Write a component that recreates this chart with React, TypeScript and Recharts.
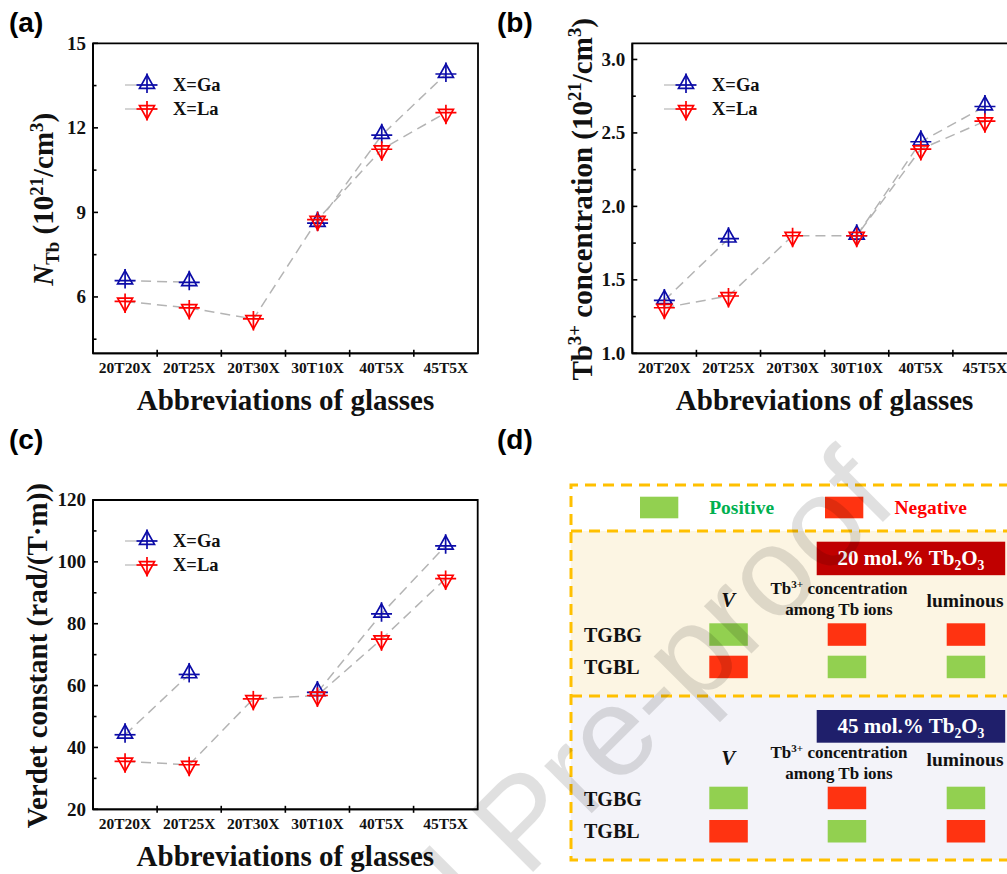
import React from 'react';
import { LineChart, Line, XAxis, YAxis, Legend, ReferenceArea } from 'recharts';

const SERIF = '"Liberation Serif", "Times New Roman", serif';
const SANS = '"Liberation Sans", Arial, sans-serif';
const BLUE = '#0c0ca8';
const RED = '#ff0000';
const LINE_GRAY = '#b4b4b4';

// ---------- data ----------
const categories = ['20T20X', '20T25X', '20T30X', '30T10X', '40T5X', '45T5X'];
const seriesNames = ['X=Ga', 'X=La'];

const nTbGa = [6.58, 6.52, null, 8.62, 11.74, 13.91];
const nTbLa = [5.84, 5.61, 5.22, 8.74, 11.24, 12.54];
const nTbMajor = [6, 9, 12, 15];
const nTbMinor = [4.5, 7.5, 10.5, 13.5];
const nTbDomain = [4, 15];

const concGa = [1.36, 1.78, null, 1.8, 2.44, 2.68];
const concLa = [1.31, 1.39, 1.8, 1.8, 2.39, 2.58];
const concMajor = [1.0, 1.5, 2.0, 2.5, 3.0];
const concMinor = [1.25, 1.75, 2.25, 2.75];
const concDomain = [1.0, 3.11];

const verdetGa = [44.1, 63.6, null, 57.8, 83.2, 105.2];
const verdetLa = [35.5, 34.4, 55.7, 56.8, 75.0, 94.6];
const verdetMajor = [20, 40, 60, 80, 100, 120];
const verdetMinor = [30, 50, 70, 90, 110];
const verdetDomain = [20, 120];

type Seg = { t: string; s?: 'sup' | 'sub'; i?: boolean };
const xTitle: Seg[] = [{ t: 'Abbreviations of glasses' }];
const nTbTitle: Seg[] = [{ t: 'N', i: true }, { t: 'Tb', s: 'sub' }, { t: ' (10' }, { t: '21', s: 'sup' }, { t: '/cm' }, { t: '3', s: 'sup' }, { t: ')' }];
const concTitle: Seg[] = [{ t: 'Tb' }, { t: '3+', s: 'sup' }, { t: ' concentration (10' }, { t: '21', s: 'sup' }, { t: '/cm' }, { t: '3', s: 'sup' }, { t: ')' }];
const verdetTitle: Seg[] = [{ t: 'Verdet constant (rad/(T\u00b7m))' }];

// panel (d) table
const legendItems = ['Positive', 'Negative'];
const tableRows = ['TGBG', 'TGBL'];
const sectionTitles: Seg[][] = [
  [{ t: '20 mol.% Tb' }, { t: '2', s: 'sub' }, { t: 'O' }, { t: '3', s: 'sub' }],
  [{ t: '45 mol.% Tb' }, { t: '2', s: 'sub' }, { t: 'O' }, { t: '3', s: 'sub' }],
];
const effect20 = [[1, 0, 0], [0, 1, 1]]; // 1 = positive, 0 = negative
const effect45 = [[1, 0, 1], [0, 1, 0]];

// ---------- helpers ----------
function rich(segs: Seg[], size: number) {
  let shift = 0;
  return segs.map((s, k) => {
    const target = s.s === 'sup' ? -0.36 * size : s.s === 'sub' ? 0.2 * size : 0;
    const dy = target - shift;
    shift = target;
    return (
      <tspan key={k} dy={dy} fontSize={s.s ? size * 0.65 : size} fontStyle={s.i ? 'italic' : 'normal'}>
        {s.t}
      </tspan>
    );
  });
}

function UpShape({ cx, cy }: { cx: number; cy: number }) {
  return (
    <g fill="none" stroke={BLUE} strokeWidth={1.7}>
      <path d={`M${cx} ${cy - 10} L${cx + 7.5} ${cy + 3.3} L${cx - 7.5} ${cy + 3.3} Z`} />
      <line x1={cx - 10.5} x2={cx + 10.5} y1={cy} y2={cy} />
      <line x1={cx} x2={cx} y1={cy - 11.5} y2={cy + 8} />
    </g>
  );
}
function DownShape({ cx, cy }: { cx: number; cy: number }) {
  return (
    <g fill="none" stroke={RED} strokeWidth={1.7}>
      <path d={`M${cx} ${cy + 10} L${cx + 7.5} ${cy - 3.3} L${cx - 7.5} ${cy - 3.3} Z`} />
      <line x1={cx - 10.5} x2={cx + 10.5} y1={cy} y2={cy} />
      <line x1={cx} x2={cx} y1={cy - 8} y2={cy + 11.5} />
    </g>
  );
}
const UpDot = (p: any) => {
  const { cx, cy, index } = p;
  if (cx == null || cy == null || Number.isNaN(cy)) return <g key={`u${index}`} />;
  return <UpShape key={`u${index}`} cx={cx} cy={cy} />;
};
const DownDot = (p: any) => {
  const { cx, cy, index } = p;
  if (cx == null || cy == null || Number.isNaN(cy)) return <g key={`d${index}`} />;
  return <DownShape key={`d${index}`} cx={cx} cy={cy} />;
};

const xTicks = [...categories.map((_, i) => i), ...categories.slice(1).map((_, i) => i + 0.5)].sort((a, b) => a - b);

const XTick = (p: any) => {
  const { x, y, payload } = p;
  const v = payload.value;
  if (Number.isInteger(v)) {
    return (
      <text x={x} y={y + 20} textAnchor="middle" fontFamily={SERIF} fontWeight="bold" fontSize={15.5} fill="#111">
        {categories[v]}
      </text>
    );
  }
  return <line x1={x} x2={x} y1={y - 3.5} y2={y + 3.5} stroke="#000" strokeWidth={1.6} />;
};

function makeYTick(major: number[], decimals: number) {
  return (p: any) => {
    const { x, y, payload } = p;
    const v = payload.value;
    const isMajor = major.some((m) => Math.abs(m - v) < 1e-9);
    return (
      <g>
        <line x1={x} x2={x + (isMajor ? 5 : 3.5)} y1={y} y2={y} stroke="#000" strokeWidth={1.6} />
        {isMajor && (
          <text x={x - 7} y={y + 6.3} textAnchor="end" fontFamily={SERIF} fontWeight="bold" fontSize={19} fill="#111">
            {v.toFixed(decimals)}
          </text>
        )}
      </g>
    );
  };
}

const LegendBox = () => (
  <svg width={140} height={48} style={{ overflow: 'visible', display: 'block' }}>
    {seriesNames.map((name, i) => {
      const y = 12 + i * 24;
      return (
        <g key={name}>
          <line x1={0} x2={32} y1={y} y2={y} stroke="#c6c6c6" strokeWidth={1.5} />
          {i === 0 ? <UpShape cx={22} cy={y} /> : <DownShape cx={22} cy={y} />}
          <text x={48} y={y + 6} fontFamily={SERIF} fontWeight="bold" fontSize={18.5} fill="#111">
            {name}
          </text>
        </g>
      );
    })}
  </svg>
);

type Geo = { left: number; top: number; w: number; h: number; pl: number; pt: number; pr: number; pb: number };
const GA: Geo = { left: 0, top: 0, w: 500, h: 420, pl: 93, pt: 43.3, pr: 478, pb: 353.3 };
const GB: Geo = { left: 495, top: 0, w: 530, h: 420, pl: 632.3, pt: 43.3, pr: 1017, pb: 353.3 };
const GC: Geo = { left: 0, top: 420, w: 500, h: 454, pl: 93, pt: 500, pr: 477.7, pb: 809.3 };

const AXIS_W = 1; // axes need a non-zero size to be drawn

function LinePanel({ g, ga, la, domain, major, minor, decimals, legendTop }: any) {
  const data = categories.map((c, i) => ({ idx: i, cat: c, ga: ga[i], la: la[i] }));
  const margin = {
    left: g.pl - g.left - AXIS_W,
    top: g.pt - g.top,
    right: g.left + g.w - g.pr,
    bottom: g.top + g.h - g.pb - AXIS_W,
  };
  const yTicks = [...major, ...minor].sort((a: number, b: number) => a - b);
  const axisLine = { stroke: '#000', strokeWidth: 1.8 };
  return (
    <div style={{ position: 'absolute', left: g.left, top: g.top, width: g.w, height: g.h }}>
      <LineChart width={g.w} height={g.h} data={data} margin={margin}>
        <XAxis
          type="number"
          dataKey="idx"
          domain={[-0.5, categories.length - 0.5]}
          ticks={xTicks}
          interval={0}
          tickLine={false}
          tickSize={0}
          tickMargin={0}
          height={AXIS_W}
          axisLine={axisLine}
          tick={XTick}
          allowDataOverflow
        />
        <YAxis
          type="number"
          domain={domain}
          ticks={yTicks}
          interval={0}
          width={AXIS_W}
          tickLine={false}
          tickSize={0}
          tickMargin={0}
          axisLine={axisLine}
          tick={makeYTick(major, decimals)}
          allowDataOverflow
        />
        <ReferenceArea x1={-0.5} x2={categories.length - 0.5} y1={domain[0]} y2={domain[1]} fill="none" stroke="#000" strokeWidth={1.8} />
        <Legend
          layout="vertical"
          verticalAlign="middle"
          align="center"
          wrapperStyle={{ left: g.pl - g.left + 32, top: g.pt - g.top + legendTop, width: 140, height: 48 }}
          content={() => <LegendBox />}
        />
        <Line type="linear" dataKey="ga" name={seriesNames[0]} stroke={LINE_GRAY} strokeWidth={1.5} strokeDasharray="10 6" dot={UpDot} activeDot={false} isAnimationActive={false} />
        <Line type="linear" dataKey="la" name={seriesNames[1]} stroke={LINE_GRAY} strokeWidth={1.5} strokeDasharray="10 6" dot={DownDot} activeDot={false} isAnimationActive={false} />
      </LineChart>
    </div>
  );
}

function Titles({ g, segs, off }: { g: Geo; segs: Seg[]; off: number }) {
  const bx = g.pl - off;
  const cy = (g.pt + g.pb) / 2 + 1;
  const cx = (g.pl + g.pr) / 2;
  return (
    <g fontFamily={SERIF} fontWeight="bold" fill="#111">
      <text transform={`rotate(-90 ${bx} ${cy})`} x={bx} y={cy} textAnchor="middle" fontSize={29}>
        {rich(segs, 29)}
      </text>
      <text x={cx} y={g.pb + 57} textAnchor="middle" fontSize={29}>
        {rich(xTitle, 29)}
      </text>
    </g>
  );
}

const GREEN_CELL = '#92d050';
const RED_CELL = '#ff3311';

function PanelD() {
  const sec = [
    { top: 531, bottom: 696, bg: '#fcf5e3', banner: '#c00000', bY: 541.7, bH: 33.5, vY: 600, tbY: 588.3, amY: 609.3, lumY: 600.5, rowY: [623.3, 655.7], labY: [634.5, 666.5], eff: effect20 },
    { top: 696, bottom: 860, bg: '#f3f3f9', banner: '#1f1f6b', bY: 710, bH: 32.7, vY: 758.3, tbY: 752.7, amY: 773.3, lumY: 759, rowY: [786.7, 820], labY: [799, 830.5], eff: effect45 },
  ];
  const colX = [709.3, 827.7, 946.7];
  const cellW = 38.5;
  const cellH = 22.5;
  const gold = '#ffc000';
  return (
    <g fontFamily={SERIF} fontWeight="bold">
      {sec.map((s, si) => (
        <g key={si}>
          <rect x={571} y={s.top} width={440} height={s.bottom - s.top} fill={s.bg} />
          <rect x={816.7} y={s.bY} width={188.5} height={s.bH} fill={s.banner} />
          <text x={911} y={s.bY + s.bH / 2 + 7} textAnchor="middle" fill="#fff" fontSize={21}>
            {rich(sectionTitles[si], 21)}
          </text>
          <text x={728.3} y={s.vY + 7} textAnchor="middle" fontStyle="italic" fontSize={21} fill="#111">V</text>
          <text x={839} y={s.tbY + 5.5} textAnchor="middle" fontSize={17} fill="#111">
            {rich([{ t: 'Tb' }, { t: '3+', s: 'sup' }, { t: ' concentration' }], 17)}
          </text>
          <text x={839} y={s.amY + 5.5} textAnchor="middle" fontSize={17} fill="#111">among Tb ions</text>
          <text x={965} y={s.lumY + 6.5} textAnchor="middle" fontSize={19.5} fill="#111">luminous</text>
          {tableRows.map((r, ri) => (
            <g key={r}>
              <text x={584} y={s.labY[ri] + 7} fontSize={20} fill="#111">{r}</text>
              {s.eff[ri].map((e, ci) => (
                <rect key={ci} x={colX[ci]} y={s.rowY[ri]} width={cellW} height={cellH} fill={e ? GREEN_CELL : RED_CELL} />
              ))}
            </g>
          ))}
        </g>
      ))}
      {/* legend row */}
      <rect x={640} y={496.7} width={38.3} height={21.6} fill={GREEN_CELL} />
      <text x={741.7} y={514.2} textAnchor="middle" fontSize={19.5} fill="#00b050">{legendItems[0]}</text>
      <rect x={825} y={496.7} width={38.3} height={21.6} fill={RED_CELL} />
      <text x={930.7} y={514.2} textAnchor="middle" fontSize={19.5} fill="#ff0000">{legendItems[1]}</text>
      {/* dashed frame */}
      <g fill="none" stroke={gold} strokeWidth={3} strokeDasharray="11 7">
        <path d="M1010 485 H571 V860 H1010" />
        <line x1={571} x2={1010} y1={531} y2={531} />
        <line x1={571} x2={1010} y1={696} y2={696} />
      </g>
    </g>
  );
}

export default function App() {
  return (
    <div style={{ position: 'relative', width: 1007, height: 874, overflow: 'hidden', background: '#fff' }}>
      <style>{'html,body{margin:0;padding:0;overflow:hidden;background:#fff}'}</style>
      <LinePanel g={GA} ga={nTbGa} la={nTbLa} domain={nTbDomain} major={nTbMajor} minor={nTbMinor} decimals={0} legendTop={29.5} />
      <LinePanel g={GB} ga={concGa} la={concLa} domain={concDomain} major={concMajor} minor={concMinor} decimals={1} legendTop={29.5} />
      <LinePanel g={GC} ga={verdetGa} la={verdetLa} domain={verdetDomain} major={verdetMajor} minor={verdetMinor} decimals={0} legendTop={28.7} />
      <svg width={1007} height={874} style={{ position: 'absolute', left: 0, top: 0, pointerEvents: 'none' }}>
        <Titles g={GA} segs={nTbTitle} off={40} />
        <Titles g={GB} segs={concTitle} off={40.6} />
        <Titles g={GC} segs={verdetTitle} off={46.3} />
        <g fontFamily={SANS} fontWeight="bold" fontSize={28} fill="#000">
          <text x={9} y={32}>(a)</text>
          <text x={497} y={32}>(b)</text>
          <text x={9} y={449}>(c)</text>
          <text x={497} y={449}>(d)</text>
        </g>
        <PanelD />
        <text
          x={900}
          y={505}
          transform="rotate(-45 900 505)"
          textAnchor="end"
          fontFamily={SANS}
          fontSize={127}
          fill="#000"
          fillOpacity={0.12}
        >
          Journal Pre-proof
        </text>
      </svg>
    </div>
  );
}
